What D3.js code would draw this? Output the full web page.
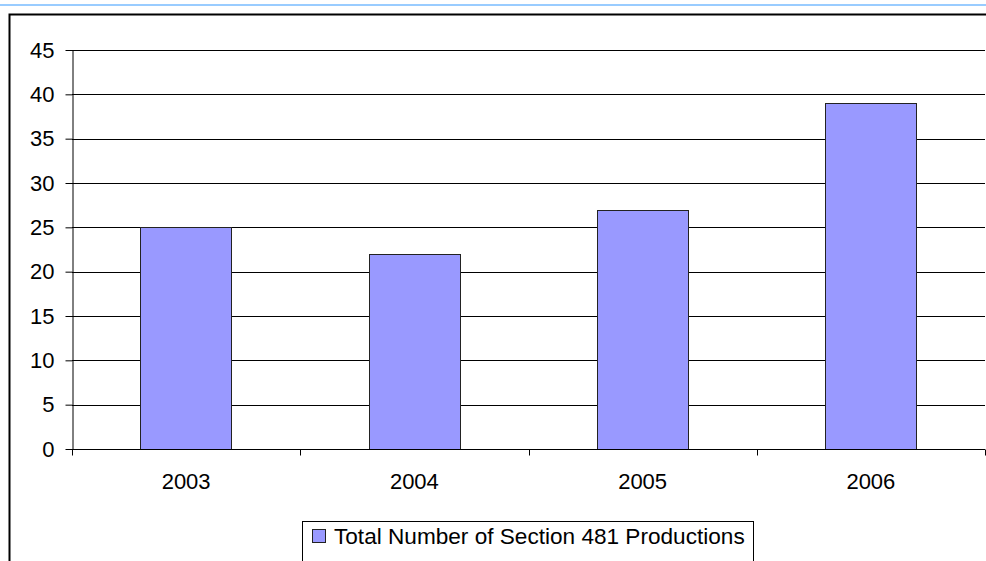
<!DOCTYPE html>
<html>
<head>
<meta charset="utf-8">
<script src="https://cdn.jsdelivr.net/npm/d3@7"></script>
<style>
  body { margin: 0; background: #fff; }
  svg { display: block; font-family: "Liberation Sans", Arial, sans-serif; }
</style>
</head>
<body>
<svg id="chart"></svg>
<script>
// Chart data
const years = ['2003', '2004', '2005', '2006'];
const productions = [25, 22, 27, 39];
const yTicks = [0, 5, 10, 15, 20, 25, 30, 35, 40, 45];
const seriesName = 'Total Number of Section 481 Productions';

const width = 986, height = 561;
const margin = {top: 50, right: 1, bottom: 112, left: 72};
const innerW = width - margin.left - margin.right;
const innerH = height - margin.top - margin.bottom;
const fontSize = '22px';

const svg = d3.select('#chart')
    .attr('width', width)
    .attr('height', height);

// thin blue rule at the top of the page
svg.append('rect')
    .attr('x', 0).attr('y', 4)
    .attr('width', width).attr('height', 2)
    .attr('fill', '#99ccff');

// chart area frame (cropped on the right and bottom)
svg.append('path')
    .attr('d', `M9.5,${height + 2}V14.5H${width + 2}`)
    .attr('fill', 'none')
    .attr('stroke', '#000')
    .attr('stroke-width', 2);

const chart = svg.append('g')
    .attr('transform', `translate(${margin.left},${margin.top})`);

const xScale = d3.scaleBand()
    .domain(years)
    .range([0, innerW])
    .paddingInner(0.6)
    .paddingOuter(0.3);

const yScale = d3.scaleLinear()
    .domain([0, 45])
    .range([innerH, 0]);

// gridlines
chart.append('g')
    .selectAll('line')
    .data(yTicks.filter(d => d > 0))
    .join('line')
    .attr('x1', 0).attr('x2', innerW)
    .attr('y1', d => Math.round(yScale(d)) + 0.5)
    .attr('y2', d => Math.round(yScale(d)) + 0.5)
    .attr('stroke', '#000')
    .attr('stroke-width', 1);

// bars
chart.selectAll('.bar')
    .data(years.map((y, i) => ({year: y, value: productions[i]})))
    .join('rect')
    .attr('class', 'bar')
    .attr('x', d => Math.round(xScale(d.year)) + 0.5)
    .attr('width', Math.round(xScale.bandwidth()))
    .attr('y', d => Math.round(yScale(d.value)) + 0.5)
    .attr('height', d => Math.round(innerH) - Math.round(yScale(d.value)))
    .attr('fill', '#9999ff')
    .attr('stroke', '#222')
    .attr('stroke-width', 1);

// y axis
const yAxis = d3.axisLeft(yScale)
    .tickValues(yTicks)
    .tickSize(7)
    .tickPadding(11)
    .tickSizeOuter(0);

const yAxisG = chart.append('g')
    .attr('transform', 'translate(0.5,0)')
    .call(yAxis);
yAxisG.attr('font-size', null).attr('font-family', null);
yAxisG.select('.domain').attr('stroke', '#000');
yAxisG.selectAll('.tick line').attr('stroke', '#000');
yAxisG.selectAll('.tick text')
    .attr('fill', '#000')
    .style('font-size', fontSize);

// x axis with ticks at category boundaries
const boundaries = d3.range(years.length + 1).map(i => i * innerW / years.length);
const xAxisG = chart.append('g')
    .attr('transform', `translate(0,${Math.round(innerH) + 0.5})`);
xAxisG.append('line')
    .attr('x1', 0).attr('x2', innerW)
    .attr('stroke', '#000');
xAxisG.selectAll('.xtick')
    .data(boundaries)
    .join('line')
    .attr('class', 'xtick')
    .attr('x1', d => Math.round(d) + 0.5)
    .attr('x2', d => Math.round(d) + 0.5)
    .attr('y1', 0).attr('y2', 6)
    .attr('stroke', '#000');
xAxisG.selectAll('.xlabel')
    .data(years)
    .join('text')
    .attr('class', 'xlabel')
    .attr('x', d => xScale(d) + xScale.bandwidth() / 2)
    .attr('y', 39)
    .attr('text-anchor', 'middle')
    .style('font-size', fontSize)
    .text(d => d);

// legend
const legend = svg.append('g');
legend.append('rect')
    .attr('x', 302.5).attr('y', 521.5)
    .attr('width', 451).attr('height', 50)
    .attr('fill', '#fff')
    .attr('stroke', '#000');
legend.append('rect')
    .attr('x', 312.5).attr('y', 529.5)
    .attr('width', 13).attr('height', 13)
    .attr('fill', '#9999ff')
    .attr('stroke', '#222');
legend.append('text')
    .attr('x', 334).attr('y', 544)
    .style('font-size', '22.6px')
    .text(seriesName);
</script>
</body>
</html>
